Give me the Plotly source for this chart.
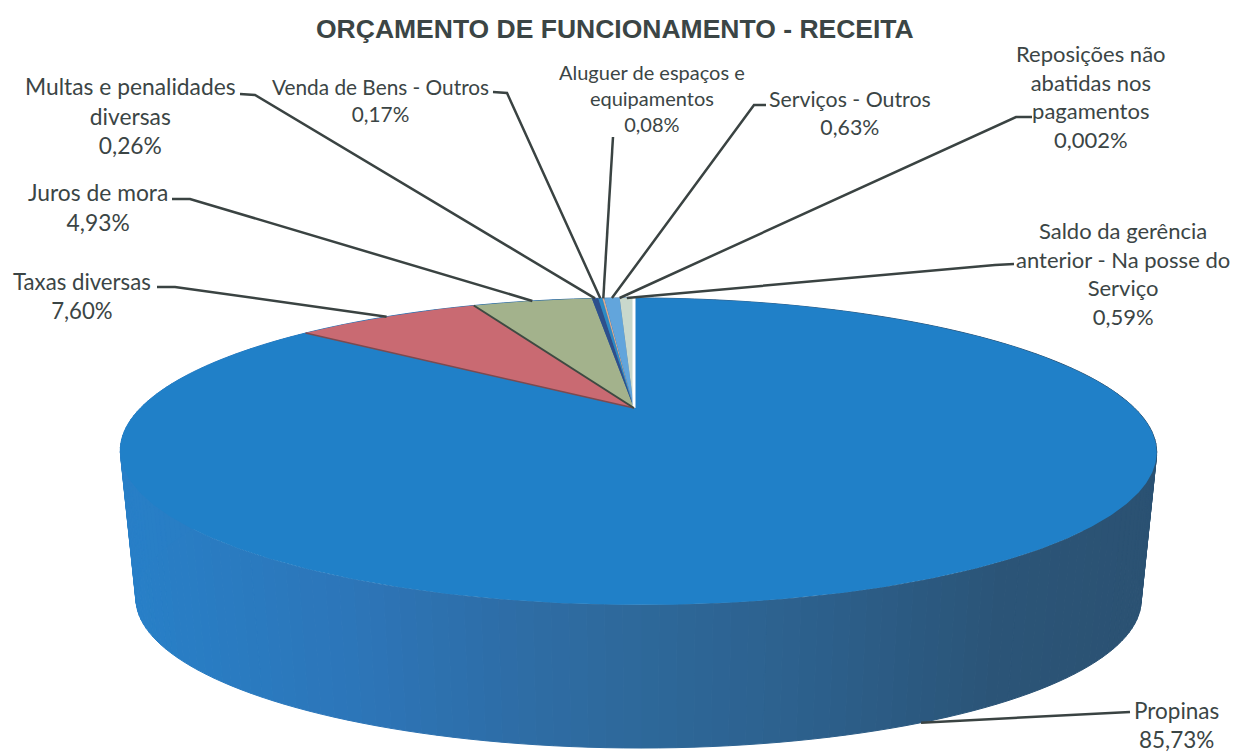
import numpy as np
import plotly.graph_objects as go

# ---- data ----
categories = ["Propinas", "Taxas diversas", "Juros de mora", "Multas e penalidades diversas",
              "Venda de Bens - Outros", "Aluguer de espaços e equipamentos", "Serviços - Outros",
              "Reposições não abatidas nos pagamentos", "Saldo da gerência anterior - Na posse do Serviço"]
values = [85.73, 7.60, 4.93, 0.26, 0.17, 0.08, 0.63, 0.002, 0.59]
value_labels = ["85,73%", "7,60%", "4,93%", "0,26%", "0,17%", "0,08%", "0,63%", "0,002%", "0,59%"]
label_lines = [["Propinas"], ["Taxas diversas"], ["Juros de mora"], ["Multas e penalidades", "diversas"],
               ["Venda de Bens - Outros"], ["Aluguer de espaços e", "equipamentos"], ["Serviços - Outros"],
               ["Reposições não", "abatidas nos", "pagamentos"], ["Saldo da gerência", "anterior - Na posse do", "Serviço"]]
slice_colors = ["#2080C8", "#C96A72", "#A3B28C", "#2E4F8C", "#2E8AC4", "#D9A98F", "#62A5DC", "#E8E8E8", "#C9D8CC"]
title_text = "ORÇAMENTO DE FUNCIONAMENTO - RECEITA"

# ---- layout of the drawing (pixels of the page) ----
W, H = 1238, 753
CX, CY = 634, 408        # apex of the top face
A, B, K = 497, 141.2, 0.283   # perspective disc
SHEAR = 3.5
DEPTH, SHRINK = 149, 0.97     # extrusion
label_centres = [(1176, 725), (82, 296), (98, 207), (130, 115), (380, 100), (652, 98), (850, 113), (1091, 96), (1123, 273)]
label_sizes = [22.5, 22.2, 22.8, 22.8, 20.8, 20, 21.3, 22, 22]
elbows = [[(1130, 712)], [(157, 287), (175, 287)], [(172, 199), (190, 199)], [(240, 94), (255, 95)],
          [(493, 92), (507, 93)], [(613, 137)], [(766, 105), (754, 105)], [(1032, 117), (1016, 117)], [(1014, 264), (995, 265)]]
side_stops_x = [120, 350, 500, 634, 800, 1000, 1150]
side_stops_rgb = [(40, 128, 200), (45, 118, 185), (46, 110, 168), (46, 105, 155), (45, 97, 142), (43, 85, 120), (43, 82, 115)]
TEXT = "#3B4545"
LINE = "#3A4342"


def project(phi, scale=1.0, dy=0.0):
    """phi is degrees clockwise from 12 o'clock on the disc."""
    r = np.radians(phi)
    s, c = -np.cos(r), np.sin(r)
    d = 1 - K * s
    return CX + scale * A * c / d + SHEAR * (s + 1), CY + dy + scale * B * s / d


fig = go.Figure()


def poly(x, y, color, width=0):
    fig.add_trace(go.Scatter(x=list(x), y=list(y), mode="lines", fill="toself", fillcolor=color,
                             line=dict(color=color, width=width), hoverinfo="skip", showlegend=False))


# side wall
ring = np.linspace(0, 360, 241)
for a0, a1 in zip(ring[:-1], ring[1:]):
    x0, y0 = project(a0)
    x1, y1 = project(a1)
    x2, y2 = project(a1, SHRINK, DEPTH)
    x3, y3 = project(a0, SHRINK, DEPTH)
    xm = (x0 + x1) / 2
    rgb = [np.interp(xm, side_stops_x, [c[i] for c in side_stops_rgb]) for i in range(3)]
    poly([x0, x1, x2, x3, x0], [y0, y1, y2, y3, y0], "rgb(%d,%d,%d)" % tuple(rgb), 1)

# top face: angles accumulated from the values
total = sum(values)
edges = np.cumsum([0] + values) / total * 360
for v0, v1, col in zip(edges[:-1], edges[1:], slice_colors):
    t = np.linspace(v0, v1, max(3, int((v1 - v0) * 2)))
    x, y = project(t)
    poly([CX, *x, CX], [CY, *y, CY], col)

# slice boundaries
for idx, col, w in [(0, "#FFFFFF", 3), (1, "#7B4A50", 1.5), (2, "#3E4A42", 2)]:
    x, y = project(edges[idx])
    fig.add_trace(go.Scatter(x=[CX, x], y=[CY, y], mode="lines", line=dict(color=col, width=w),
                             hoverinfo="skip", showlegend=False))

# leaders end at the middle of each slice's rim
mids = (edges[:-1] + edges[1:]) / 2
for i, mid in enumerate(mids):
    ex, ey = project(mid, SHRINK, DEPTH) if i == 0 else project(mid)
    xs = [p[0] for p in elbows[i]] + [ex]
    ys = [p[1] for p in elbows[i]] + [ey]
    fig.add_trace(go.Scatter(x=xs, y=ys, mode="lines", line=dict(color=LINE, width=2.5),
                             hoverinfo="skip", showlegend=False))

for lines, pct, (lx, ly), size in zip(label_lines, value_labels, label_centres, label_sizes):
    fig.add_annotation(x=lx, y=ly, xref="x", yref="y", text="<br>".join(lines + [pct]), showarrow=False,
                       align="center", xanchor="center", yanchor="middle",
                       font=dict(family="Lato, Carlito, sans-serif", size=size, color=TEXT))

fig.add_annotation(x=615, y=29, xref="x", yref="y", text="<b>%s</b>" % title_text, showarrow=False,
                   font=dict(family="Liberation Sans, sans-serif", size=26.5, color=TEXT))

fig.update_xaxes(range=[0, W], visible=False, fixedrange=True)
fig.update_yaxes(range=[H, 0], visible=False, fixedrange=True)
fig.update_layout(width=W, height=H, margin=dict(l=0, r=0, t=0, b=0), paper_bgcolor="white",
                  plot_bgcolor="white", showlegend=False)
fig.write_html("out.html", config={"displayModeBar": False},
               post_script="document.body.style.margin='0';document.documentElement.style.overflow='hidden';")
